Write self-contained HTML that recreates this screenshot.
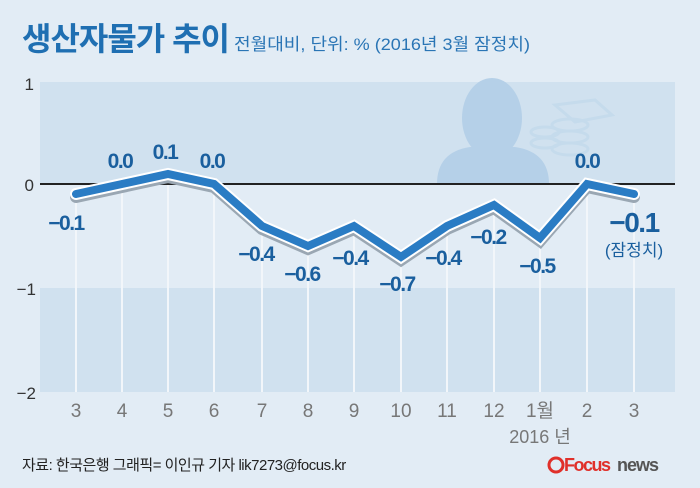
<!DOCTYPE html>
<html><head><meta charset="utf-8"><style>
body{margin:0;width:700px;height:488px;overflow:hidden;background:#e2ecf5}
svg{display:block}
text{font-family:"Liberation Sans","Noto Sans CJK KR",sans-serif}
</style></head><body>
<svg width="700" height="488" viewBox="0 0 700 488">
<rect width="700" height="488" fill="#e2ecf5"/>
<text x="22" y="50" font-size="32" font-weight="bold" fill="#1f6fb2" letter-spacing="-1">생산자물가 추이</text>
<text x="234" y="50" font-size="17" fill="#2a75b5" textLength="296" lengthAdjust="spacingAndGlyphs">전월대비, 단위: % (2016년 3월 잠정치)</text>
<rect x="40" y="82" width="635" height="102" fill="#d0e1ef"/>
<rect x="40" y="288" width="635" height="104" fill="#d0e1ef"/>
<g fill="#b5d0e8">
<ellipse cx="492" cy="118" rx="30" ry="40"/>
<path d="M437 184 Q437 152 470 147 L515 147 Q549 152 549 184Z"/>
<g fill="none" stroke="#c5dbec" stroke-width="3">
<ellipse cx="570" cy="125" rx="18" ry="6"/><ellipse cx="570" cy="137" rx="18" ry="6"/><ellipse cx="570" cy="149" rx="18" ry="6"/>
<ellipse cx="545" cy="132" rx="14" ry="5"/><ellipse cx="545" cy="143" rx="14" ry="5"/>
<path d="M555 105 L595 100 L612 115 L575 122Z"/></g>
</g>
<g stroke="#f2f6fa" stroke-width="2">
<line x1="76" y1="194" x2="76" y2="392"/><line x1="122" y1="184" x2="122" y2="392"/>
<line x1="168" y1="174" x2="168" y2="392"/><line x1="214" y1="184" x2="214" y2="392"/>
<line x1="262" y1="226" x2="262" y2="392"/><line x1="308" y1="246" x2="308" y2="392"/>
<line x1="354" y1="226" x2="354" y2="392"/><line x1="401" y1="257" x2="401" y2="392"/>
<line x1="447" y1="226" x2="447" y2="392"/><line x1="494" y1="205" x2="494" y2="392"/>
<line x1="540" y1="238" x2="540" y2="392"/><line x1="587" y1="184" x2="587" y2="392"/>
<line x1="634" y1="194" x2="634" y2="392"/>
</g>
<line x1="40" y1="184" x2="675" y2="184" stroke="#222" stroke-width="2"/>
<g font-size="17" fill="#333" text-anchor="end">
<text x="34" y="90">1</text><text x="34" y="191">0</text><text x="36" y="295">−1</text><text x="36" y="399">−2</text>
</g>
<polyline points="76,194 122,184 168,174 214,184 262,226 308,246 354,226 401,257 447,226 494,205 540,238 587,184 634,194" fill="none" stroke="#9aa7b3" stroke-width="12" stroke-linejoin="miter" stroke-linecap="round" transform="translate(0,3)"/>
<polyline points="76,194 122,184 168,174 214,184 262,226 308,246 354,226 401,257 447,226 494,205 540,238 587,184 634,194" fill="none" stroke="#fff" stroke-width="12" stroke-linejoin="miter" stroke-linecap="round"/>
<polyline points="76,194 122,184 168,174 214,184 262,226 308,246 354,226 401,257 447,226 494,205 540,238 587,184 634,194" fill="none" stroke="#2a7cc4" stroke-width="8" stroke-linejoin="miter" stroke-linecap="round"/>
<g font-size="21" font-weight="bold" fill="#1a5f9e" text-anchor="middle" letter-spacing="-1.5">
<text x="66" y="230">−0.1</text><text x="120" y="168">0.0</text><text x="165" y="159">0.1</text><text x="212" y="168">0.0</text>
<text x="256" y="261">−0.4</text><text x="302" y="281">−0.6</text><text x="350" y="265">−0.4</text><text x="397" y="291">−0.7</text>
<text x="443" y="265">−0.4</text><text x="488" y="244">−0.2</text><text x="537" y="273">−0.5</text><text x="587" y="168">0.0</text>
<text x="634" y="232" font-size="28">−0.1</text>
</g>
<text x="634" y="256" font-size="17" fill="#1a5f9e" text-anchor="middle">(잠정치)</text>
<g font-size="19" fill="#777" text-anchor="middle">
<text x="76" y="417">3</text><text x="122" y="417">4</text><text x="168" y="417">5</text><text x="214" y="417">6</text>
<text x="262" y="417">7</text><text x="308" y="417">8</text><text x="354" y="417">9</text><text x="401" y="417">10</text>
<text x="447" y="417">11</text><text x="494" y="417">12</text><text x="540" y="417">1월</text><text x="587" y="417">2</text>
<text x="634" y="417">3</text><text x="540" y="443" font-size="18">2016 년</text>
</g>
<text x="22" y="470" font-size="15" fill="#222" letter-spacing="-0.5">자료: 한국은행  그래픽= 이인규 기자 lik7273@focus.kr</text>
<circle cx="556" cy="465" r="7" fill="none" stroke="#e0302a" stroke-width="3"/>
<text x="564" y="471" font-size="18" font-weight="bold" fill="#e0302a" letter-spacing="-1.5">Focus</text>
<text x="617" y="471" font-size="18" font-weight="bold" fill="#555" letter-spacing="-1">news</text>
</svg>
</body></html>
